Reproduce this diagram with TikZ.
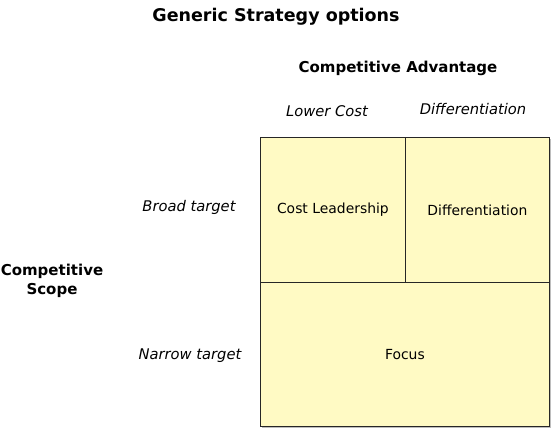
\documentclass[tikz,border=0pt]{standalone}
\usepackage{fontspec}
\setmainfont{DejaVu Sans}
\definecolor{cellfill}{HTML}{FFFAC4}
\definecolor{shadowgray}{HTML}{BDBDBD}
\begin{document}
\begin{tikzpicture}[x=1pt,y=-1pt,
  cell/.style={draw=black!85,line width=0.8pt,fill=cellfill},
  heading/.style={font=\bfseries\fontsize{17.5}{20}\selectfont,inner sep=0pt},
  axislabel/.style={font=\itshape\fontsize{14.7}{17}\selectfont,inner sep=0pt},
  celllabel/.style={font=\fontsize{13.9}{16}\selectfont,inner sep=0pt},
  boldlabel/.style={font=\bfseries\fontsize{15}{19}\selectfont,inner sep=0pt,align=center}]
\useasboundingbox (0,0) rectangle (558,436);
% shadow
\fill[shadowgray] (262,139) rectangle (551,428);
% cells
\node[cell,minimum width=145pt,minimum height=145pt,anchor=north west,inner sep=0pt] (cl) at (260,137) {};
\node[cell,minimum width=144pt,minimum height=145pt,anchor=north west,inner sep=0pt] (df) at (405,137) {};
\node[cell,minimum width=289pt,minimum height=144pt,anchor=north west,inner sep=0pt] (fo) at (260,282) {};
\node[celllabel] (cltext) at (cl.center) {Cost Leadership};
\node[celllabel] (dftext) at (df.center) {Differentiation};
\node[celllabel] (fotext) at (fo.center) {Focus};
% headings
\node[heading] (title) at (276,17) {Generic Strategy options};
\node[boldlabel] (adv) at (398,68) {Competitive Advantage};
\node[axislabel] (low) at (327,111) {Lower Cost};
\node[axislabel] (diff) at (473,109) {Differentiation};
\node[axislabel] (broad) at (189,207) {Broad target};
\node[axislabel] (narrow) at (190,356) {Narrow target};
\node[boldlabel] (scope) at (52,281) {Competitive\\Scope};
\end{tikzpicture}
\end{document}
